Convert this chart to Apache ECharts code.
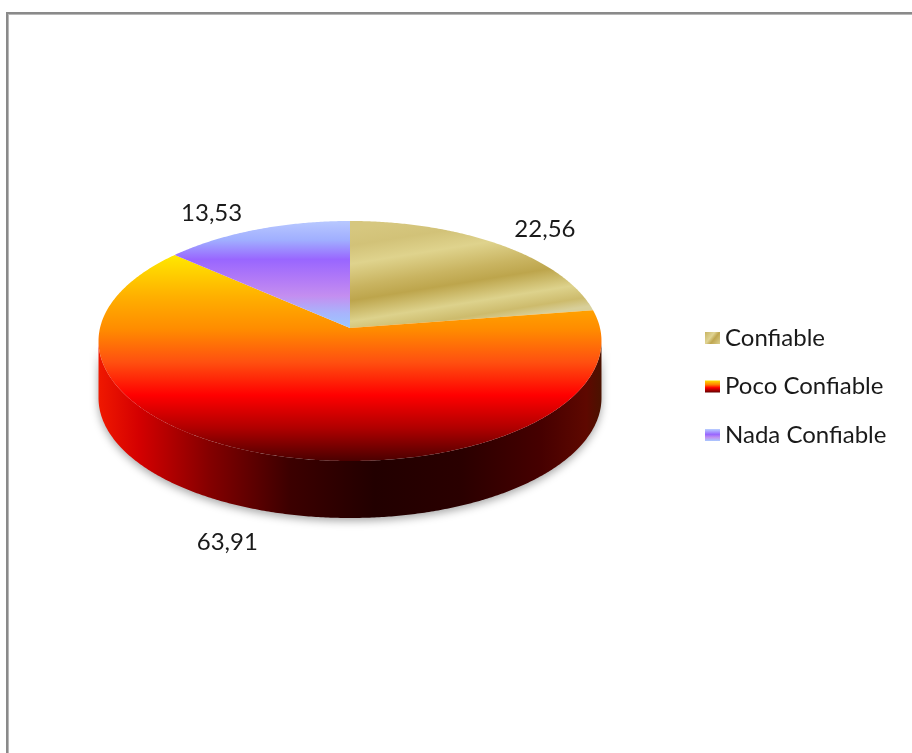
<!DOCTYPE html>
<html>
<head>
<meta charset="utf-8">
<script src="https://cdn.jsdelivr.net/npm/echarts@6/dist/echarts.min.js"></script>
<style>
html,body{margin:0;padding:0;background:#fff;overflow:hidden;width:912px;height:753px;}
#frame{position:absolute;left:6px;top:12px;width:930px;height:780px;border-left:2px solid #8a8a8a;border-top:2px solid #8a8a8a;box-shadow:inset 1px 1px 0 #b8b8b8;}
#chart{position:absolute;left:0;top:0;width:912px;height:753px;}
</style>
</head>
<body>
<div id="frame"></div>
<div id="chart"></div>
<script>
// ---- data ----
const categories = ['Confiable', 'Poco Confiable', 'Nada Confiable'];
const values = [22.56, 63.91, 13.53];

// ---- layout of the 3D pie (perspective ellipse) ----
const CX = 350, CY = 328, RX = 250, RY = 118.6, K = 0.1083, DEPTH = 57;
const FONT = 'Lato';

const total = values.reduce((s, v) => s + v, 0);
const starts = [];
values.reduce((acc, v, i) => { starts[i] = acc / total * 360; return acc + v; }, 0);

const PHI1 = Math.acos(-K) * 180 / Math.PI;
const PHI2 = 360 - PHI1;

function proj(phiDeg, dy) {
  const p = phiDeg * Math.PI / 180;
  const u = Math.sin(p), v = -Math.cos(p);
  const d = 1 - K * v;
  return [CX + RX * u / d, CY + RY * v / d + dy];
}
function arc(a, b, dy) {
  const pts = [];
  const n = Math.max(2, Math.ceil((b - a) / 0.5));
  for (let j = 0; j <= n; j++) pts.push(proj(a + (b - a) * j / n, dy));
  return pts;
}

const G = echarts.graphic.LinearGradient;
const topFills = [
  new G(CX + 60, CY - 108, CX + 78, CY + 4, [
    {offset: 0, color: '#d6c77f'}, {offset: 0.14, color: '#d2c278'},
    {offset: 0.3, color: '#dfd38d'}, {offset: 0.5, color: '#c9b461'},
    {offset: 0.62, color: '#bda54c'}, {offset: 0.8, color: '#ddd28c'},
    {offset: 0.92, color: '#cdbb6c'}, {offset: 1, color: '#d8cf9a'}], true),
  new G(0, 0, 0, 1, [
    {offset: 0, color: '#ffe800'}, {offset: 0.2, color: '#ffb000'},
    {offset: 0.36, color: '#ff8c00'}, {offset: 0.52, color: '#ff5010'},
    {offset: 0.68, color: '#ff0000'}, {offset: 0.84, color: '#b00000'},
    {offset: 1, color: '#4a0000'}]),
  new G(0, 0, 0, 1, [
    {offset: 0, color: '#b8c8ff'}, {offset: 0.18, color: '#a0aeff'},
    {offset: 0.36, color: '#9966ff'}, {offset: 0.56, color: '#b47cf6'},
    {offset: 0.7, color: '#c48ef0'}, {offset: 0.86, color: '#a8b4fc'},
    {offset: 1, color: '#9cc8ff'}])
];
const sideFills = [
  new G(0, 0, 1, 0, [{offset: 0, color: '#8a7a30'}, {offset: 1, color: '#4a4010'}]),
  new G(0, 0, 1, 0, [
    {offset: 0, color: '#f01800'}, {offset: 0.08, color: '#d40000'},
    {offset: 0.22, color: '#840000'}, {offset: 0.38, color: '#3c0000'},
    {offset: 0.55, color: '#220000'}, {offset: 0.72, color: '#2a0000'},
    {offset: 0.88, color: '#460000'}, {offset: 0.97, color: '#5e0800'},
    {offset: 1, color: '#4a1200'}]),
  new G(0, 0, 1, 0, [{offset: 0, color: '#5030a0'}, {offset: 1, color: '#302060'}])
];
const legendFills = [
  new G(0, 0, 1, 1, [
    {offset: 0, color: '#c8b462'}, {offset: 0.4, color: '#e0d494'},
    {offset: 0.6, color: '#bfa650'}, {offset: 1, color: '#dcd090'}]),
  new G(0, 0, 0, 1, [
    {offset: 0, color: '#ffe000'}, {offset: 0.35, color: '#ff8000'},
    {offset: 0.6, color: '#ff0000'}, {offset: 1, color: '#600000'}]),
  new G(0, 0, 0, 1, [
    {offset: 0, color: '#b8d0ff'}, {offset: 0.45, color: '#9966ff'},
    {offset: 0.7, color: '#c090f0'}, {offset: 1, color: '#a8c8ff'}])
];

function makeRender(i) {
  return function (params, api) {
    const sweep = api.value(0) / total * 360;
    const a = starts[i], b = a + sweep;
    const children = [];
    // top face
    const topPts = [[CX, CY]].concat(arc(a, b, 0));
    children.push({type: 'polygon', shape: {points: topPts}, style: {fill: topFills[i]}, z2: 5});
    // side wall (front part only)
    const s = Math.max(a, PHI1), e = Math.min(b, PHI2);
    if (e > s) {
      const upper = arc(s, e, 0);
      const lower = arc(s, e, DEPTH).reverse();
      children.push({
        type: 'polygon', shape: {points: upper.concat(lower)},
        style: {fill: sideFills[i], shadowBlur: 8, shadowColor: 'rgba(0,0,0,0.35)', shadowOffsetY: 3},
        z2: 1
      });
    }
    // label
    const mid = a + sweep / 2;
    const p = mid * Math.PI / 180;
    const u = Math.sin(p), v = -Math.cos(p);
    const edge = proj(mid, v > 0 ? DEPTH : 0);
    const gx = 14, gy = v > 0 ? 18 : 4;
    children.push({
      type: 'text', z2: 20,
      style: {
        text: api.value(0).toFixed(2).replace('.', ','),
        x: edge[0] + (u >= 0 ? gx : -gx),
        y: edge[1] + (v >= 0 ? gy : -gy),
        align: u >= 0 ? 'left' : 'right',
        verticalAlign: v >= 0 ? 'top' : 'bottom',
        fontSize: 24, fontFamily: FONT, fill: '#1a1a1a'
      }
    });
    return {type: 'group', children: children};
  };
}

const chart = echarts.init(document.getElementById('chart'), null, {renderer: 'canvas'});
chart.setOption({
  backgroundColor: 'transparent',
  animation: false,
  legend: {
    orient: 'vertical', left: 705, top: 324, padding: 0,
    itemWidth: 15, itemHeight: 12, itemGap: 20.5,
    icon: 'rect', selectedMode: false,
    textStyle: {fontSize: 24, fontFamily: FONT, color: '#1a1a1a', lineHeight: 28},
    data: categories
  },
  series: categories.map((name, i) => ({
    type: 'custom',
    name: name,
    coordinateSystem: 'none',
    itemStyle: {color: legendFills[i]},
    renderItem: makeRender(i),
    data: [[values[i]]]
  }))
});
</script>
</body>
</html>
